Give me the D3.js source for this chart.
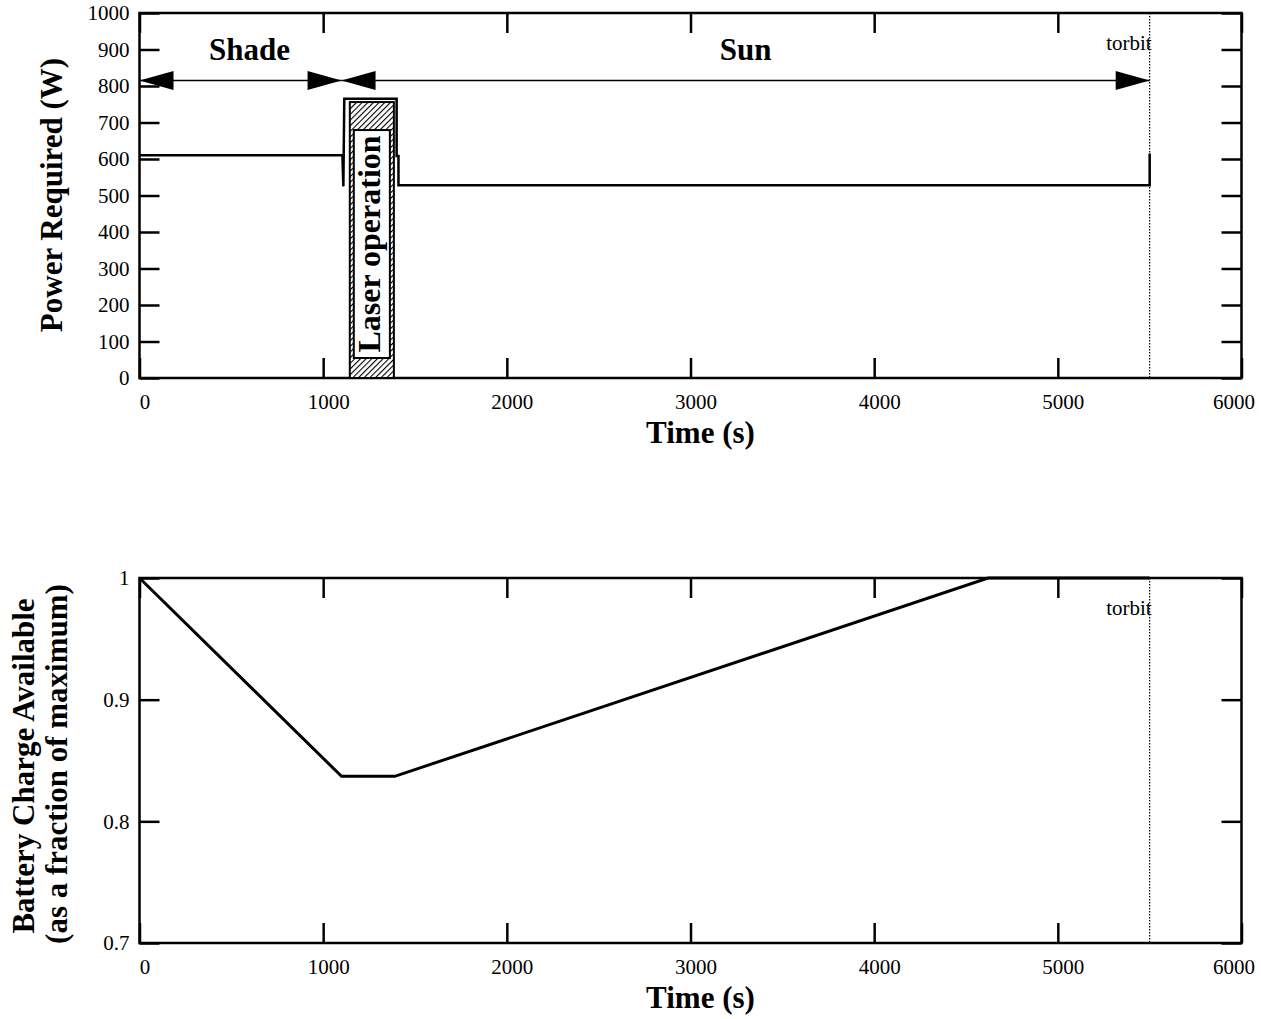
<!DOCTYPE html>
<html>
<head>
<meta charset="utf-8">
<script src="https://cdn.jsdelivr.net/npm/d3@7"></script>
<style>
    body { margin: 0; background: #fff; }
    svg text { font-family: "Liberation Serif", "Times New Roman", serif; fill: #000; }
    .tick text { font-size: 21px; }
    .axis-title { font-size: 31px; font-weight: bold; }
</style>
</head>
<body>
<div id="figure"></div>
<script>
// --------- DATA ---------

// shared time axis (s)
const timeTicks = [0, 1000, 2000, 3000, 4000, 5000, 6000];
const powerTicks = [0, 100, 200, 300, 400, 500, 600, 700, 800, 900, 1000];
const chargeTicks = [0.7, 0.8, 0.9, 1];

// power required (W) over one orbit
const powerTime  = [0, 1105, 1110, 1115, 1400, 1400, 1410, 1410, 5500, 5500];
const powerWatts = [610, 610, 525, 765, 765, 608, 608, 528, 528, 615];

// laser operation window
const laserWindow = [1145, 1385];
const laserPower = 756;

// shade / sun phases
const phaseNames = ["Shade", "Sun"];
const phaseStart = [0, 1100];
const phaseEnd = [1100, 5500];
const phaseLevel = 815;

const torbit = 5500;

// battery charge (fraction of maximum)
const chargeTime = [0, 1100, 1390, 4620, 5500];
const chargeFraction = [1, 0.837, 0.837, 1, 1];

// --------- GRAPHING ---------

let svg = d3.select("#figure")
    .append("svg")
    .attr("width", 1261)
    .attr("height", 1019);

let defs = svg.append("defs");
let hatch = defs.append("pattern")
    .attr("id", "hatch")
    .attr("patternUnits", "userSpaceOnUse")
    .attr("width", 4)
    .attr("height", 4)
    .attr("patternTransform", "rotate(45)");
hatch.append("rect").attr("width", 4).attr("height", 4).attr("fill", "#fff");
hatch.append("line")
    .attr("x1", 0).attr("y1", 0).attr("x2", 0).attr("y2", 4)
    .attr("stroke", "#000").attr("stroke-width", 2.2);

let x = d3.scaleLinear().domain([0, 6000]).range([139.5, 1241.5]);
let yPower = d3.scaleLinear().domain([0, 1000]).range([378, 13]);
let yCharge = d3.scaleLinear().domain([0.7, 1]).range([943, 578]);

function panel(y, yTicks, yFormat) {
    let g = svg.append("g");
    let [yBottom, yTop] = y.range();
    let [left, right] = x.range();

    // bottom axis with labels, ticks pointing inward
    let xb = g.append("g")
        .attr("transform", "translate(0," + yBottom + ")")
        .call(d3.axisBottom(x).tickValues(timeTicks).tickFormat(d3.format("d"))
            .tickSizeInner(-20).tickSizeOuter(0).tickPadding(16));
    xb.selectAll(".tick text").attr("dx", 5);
    xb.select(".tick:last-of-type text").attr("text-anchor", "end").attr("dx", 13);

    g.append("g")
        .attr("transform", "translate(0," + yTop + ")")
        .call(d3.axisTop(x).tickValues(timeTicks).tickSizeInner(-20).tickSizeOuter(0).tickFormat(""));

    g.append("g")
        .attr("transform", "translate(" + left + ",0)")
        .call(d3.axisLeft(y).tickValues(yTicks).tickSizeInner(-20).tickSizeOuter(0).tickPadding(10).tickFormat(yFormat));

    g.append("g")
        .attr("transform", "translate(" + right + ",0)")
        .call(d3.axisRight(y).tickValues(yTicks).tickSizeInner(-20).tickSizeOuter(0).tickFormat(""));

    g.selectAll(".domain").remove();
    g.selectAll(".tick line").attr("stroke", "#000").attr("stroke-width", 2.5);

    g.append("rect")
        .attr("x", left).attr("y", yTop)
        .attr("width", right - left).attr("height", yBottom - yTop)
        .attr("fill", "none").attr("stroke", "#000").attr("stroke-width", 2.5);

    // orbit period marker
    g.append("line")
        .attr("x1", x(torbit)).attr("x2", x(torbit))
        .attr("y1", yTop).attr("y2", yBottom)
        .attr("stroke", "#000").attr("stroke-width", 1.2)
        .attr("stroke-dasharray", "1.5,1.5");
    g.append("text")
        .attr("x", x(torbit) + 2)
        .attr("y", yTop + 37)
        .attr("text-anchor", "end")
        .attr("font-size", 21)
        .text("torbit");

    g.append("text")
        .attr("class", "axis-title")
        .attr("x", (left + right) / 2 + 10)
        .attr("y", yBottom + 65)
        .attr("text-anchor", "middle")
        .text("Time (s)");

    return g;
}

// ---- top panel: power required ----
let powerPanel = panel(yPower, powerTicks, d3.format("d"));

// laser operation bar
let lx0 = x(laserWindow[0]), lx1 = x(laserWindow[1]);
let boxTop = yPower(laserPower) + 28,
    boxHeight = yPower(0) - yPower(laserPower) - 48;
powerPanel.append("rect")
    .attr("x", lx0).attr("y", yPower(laserPower))
    .attr("width", lx1 - lx0).attr("height", yPower(0) - yPower(laserPower))
    .attr("fill", "url(#hatch)").attr("stroke", "#000").attr("stroke-width", 2);
powerPanel.append("rect")
    .attr("x", lx0 + 4).attr("y", boxTop)
    .attr("width", lx1 - lx0 - 8).attr("height", boxHeight)
    .attr("fill", "#fff").attr("stroke", "#000").attr("stroke-width", 2);
powerPanel.append("text")
    .attr("transform", "translate(" + ((lx0 + lx1) / 2 + 8) + "," + (boxTop + boxHeight / 2) + ") rotate(-90)")
    .attr("text-anchor", "middle")
    .attr("font-size", 32)
    .attr("font-weight", "bold")
    .text("Laser operation");

// power curve
let powerLine = d3.line()
    .x(d => x(d[0]))
    .y(d => yPower(d[1]));
powerPanel.append("path")
    .attr("fill", "none")
    .attr("stroke", "#000")
    .attr("stroke-width", 2.5)
    .attr("d", powerLine(d3.zip(powerTime, powerWatts)));

// phase arrows
function arrowHead(tip, dir, yy) {
    return "M" + tip + "," + yy + "L" + (tip + dir * 34) + "," + (yy - 9.5) + "L" + (tip + dir * 34) + "," + (yy + 9.5) + "Z";
}
phaseNames.forEach((name, i) => {
    let yy = yPower(phaseLevel);
    powerPanel.append("line")
        .attr("x1", x(phaseStart[i])).attr("x2", x(phaseEnd[i]))
        .attr("y1", yy).attr("y2", yy)
        .attr("stroke", "#000").attr("stroke-width", 1.5);
    powerPanel.append("path").attr("d", arrowHead(x(phaseStart[i]), 1, yy)).attr("fill", "#000");
    powerPanel.append("path").attr("d", arrowHead(x(phaseEnd[i]), -1, yy)).attr("fill", "#000");
    powerPanel.append("text")
        .attr("x", x((phaseStart[i] + phaseEnd[i]) / 2) + (i == 0 ? 9 : 0))
        .attr("y", yy - 21)
        .attr("text-anchor", "middle")
        .attr("font-size", 31)
        .attr("font-weight", "bold")
        .text(name);
});

svg.append("text")
    .attr("class", "axis-title")
    .attr("transform", "translate(62,195) rotate(-90)")
    .attr("text-anchor", "middle")
    .attr("font-size", 36)
    .text("Power Required (W)");

// ---- bottom panel: battery charge ----
let chargePanel = panel(yCharge, chargeTicks, d => d === 1 ? "1" : d3.format(".1f")(d));

let chargeLine = d3.line()
    .x(d => x(d[0]))
    .y(d => yCharge(d[1]));
chargePanel.append("path")
    .attr("fill", "none")
    .attr("stroke", "#000")
    .attr("stroke-width", 3)
    .attr("d", chargeLine(d3.zip(chargeTime, chargeFraction)));

svg.append("text")
    .attr("class", "axis-title")
    .attr("transform", "translate(34,766) rotate(-90)")
    .attr("text-anchor", "middle")
    .attr("font-size", 33)
    .text("Battery Charge Available");
svg.append("text")
    .attr("class", "axis-title")
    .attr("transform", "translate(67,764) rotate(-90)")
    .attr("text-anchor", "middle")
    .attr("font-size", 32)
    .text("(as a fraction of maximum)");
</script>
</body>
</html>
